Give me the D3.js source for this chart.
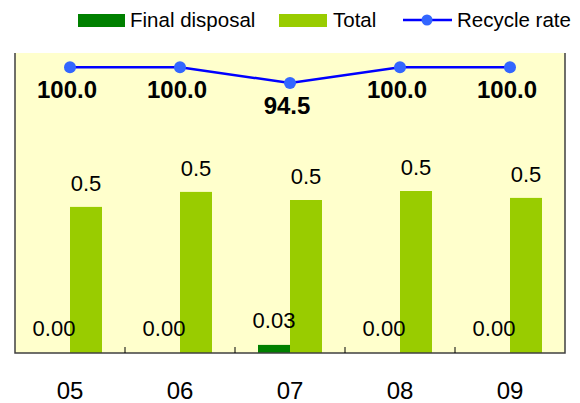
<!DOCTYPE html>
<html>
<head>
<meta charset="utf-8">
<script src="https://cdn.jsdelivr.net/npm/d3@7"></script>
<style>
    body { margin: 0; background: #fff; }
    svg text { font-family: "Liberation Sans", Arial, sans-serif; }
</style>
</head>
<body>
<svg id="chart"></svg>
<script>
const years = ["05", "06", "07", "08", "09"];
const finalDisposal = [0.00, 0.00, 0.027, 0.00, 0.00];
const total = [0.487, 0.537, 0.51, 0.54, 0.517];
const recycleRate = [100.0, 100.0, 94.5, 100.0, 100.0];

const width = 580, height = 403;
const margin = {top: 53, right: 15, bottom: 50, left: 15},
    plot_width = width - margin.left - margin.right,
    plot_height = height - margin.top - margin.bottom;

const svg = d3.select("#chart")
    .attr("width", width)
    .attr("height", height);

const g = svg.append("g")
    .attr("transform", "translate(" + margin.left + "," + margin.top + ")");

var xScale = d3.scaleBand()
    .domain(years)
    .range([0, plot_width]);

var yScale = d3.scaleLinear()
    .domain([0, 1])
    .range([plot_height, 0]);

var rateScale = d3.scaleLinear()
    .domain([0, 105])
    .range([plot_height, 0]);

const barW = 32;

// background
g.append("rect")
    .attr("width", plot_width)
    .attr("height", plot_height)
    .attr("fill", "#ffffcc");

// final disposal bars (left of centre)
g.selectAll(".final")
    .data(finalDisposal)
    .enter()
    .append("rect")
    .attr("class", "final")
    .attr("fill", "#008000")
    .attr("x", function (d, i) { return xScale(years[i]) + xScale.bandwidth() / 2 - barW; })
    .attr("width", barW)
    .attr("y", function (d) { return yScale(d); })
    .attr("height", function (d) { return plot_height - yScale(d); });

// total bars (right of centre)
g.selectAll(".total")
    .data(total)
    .enter()
    .append("rect")
    .attr("class", "total")
    .attr("fill", "#99cc00")
    .attr("x", function (d, i) { return xScale(years[i]) + xScale.bandwidth() / 2; })
    .attr("width", barW)
    .attr("y", function (d) { return yScale(d); })
    .attr("height", function (d) { return plot_height - yScale(d); });

// frame: left, right, bottom
g.append("path")
    .attr("d", "M0,0V" + plot_height + "H" + plot_width + "V0")
    .attr("fill", "none")
    .attr("stroke", "#404040")
    .attr("stroke-width", 1.5);

// inner ticks between categories
g.selectAll(".tick-mark")
    .data(years.slice(1))
    .enter()
    .append("line")
    .attr("x1", function (d) { return xScale(d); })
    .attr("x2", function (d) { return xScale(d); })
    .attr("y1", plot_height)
    .attr("y2", plot_height - 6)
    .attr("stroke", "#000")
    .attr("stroke-width", 1);

// category labels
g.selectAll(".cat")
    .data(years)
    .enter()
    .append("text")
    .attr("x", function (d) { return xScale(d) + xScale.bandwidth() / 2; })
    .attr("y", plot_height + 46)
    .attr("text-anchor", "middle")
    .attr("font-size", "24px")
    .attr("fill", "#000")
    .text(function (d) { return d; });

// bar value labels
g.selectAll(".final-label")
    .data(finalDisposal)
    .enter()
    .append("text")
    .attr("x", function (d, i) { return xScale(years[i]) + xScale.bandwidth() / 2 - barW / 2; })
    .attr("y", function (d) { return yScale(d) - 17; })
    .attr("text-anchor", "middle")
    .attr("font-size", "22px")
    .text(function (d) { return d3.format(".2f")(d); });

g.selectAll(".total-label")
    .data(total)
    .enter()
    .append("text")
    .attr("x", function (d, i) { return xScale(years[i]) + xScale.bandwidth() / 2 + barW / 2; })
    .attr("y", function (d) { return yScale(d) - 16; })
    .attr("text-anchor", "middle")
    .attr("font-size", "22px")
    .text(function (d) { return d3.format(".1f")(d); });

// recycle rate line
var line = d3.line()
    .x(function (d, i) { return xScale(years[i]) + xScale.bandwidth() / 2; })
    .y(function (d) { return rateScale(d); });

g.append("path")
    .datum(recycleRate)
    .attr("d", line)
    .attr("fill", "none")
    .attr("stroke", "#0000ff")
    .attr("stroke-width", 2.5);

g.selectAll(".dot")
    .data(recycleRate)
    .enter()
    .append("circle")
    .attr("cx", function (d, i) { return xScale(years[i]) + xScale.bandwidth() / 2; })
    .attr("cy", function (d) { return rateScale(d); })
    .attr("r", 6)
    .attr("fill", "#3366ff");

g.selectAll(".rate-label")
    .data(recycleRate)
    .enter()
    .append("text")
    .attr("x", function (d, i) { return xScale(years[i]) + xScale.bandwidth() / 2 - 3; })
    .attr("y", function (d) { return rateScale(d) + 31; })
    .attr("text-anchor", "middle")
    .attr("font-size", "24px")
    .attr("font-weight", "bold")
    .text(function (d) { return d3.format(".1f")(d); });

// legend
const legend = svg.append("g");

legend.append("rect")
    .attr("x", 78).attr("y", 14)
    .attr("width", 47).attr("height", 13)
    .attr("fill", "#008000");
legend.append("text")
    .attr("x", 130).attr("y", 27)
    .attr("font-size", "20.5px")
    .text("Final disposal");

legend.append("rect")
    .attr("x", 279).attr("y", 14)
    .attr("width", 48).attr("height", 13)
    .attr("fill", "#99cc00");
legend.append("text")
    .attr("x", 333).attr("y", 27)
    .attr("font-size", "20.5px")
    .text("Total");

legend.append("line")
    .attr("x1", 403).attr("x2", 452)
    .attr("y1", 20).attr("y2", 20)
    .attr("stroke", "#0000ff")
    .attr("stroke-width", 2.5);
legend.append("circle")
    .attr("cx", 427).attr("cy", 20)
    .attr("r", 5.5)
    .attr("fill", "#3366ff");
legend.append("text")
    .attr("x", 457).attr("y", 27)
    .attr("font-size", "20.5px")
    .text("Recycle rate");
</script>
</body>
</html>
